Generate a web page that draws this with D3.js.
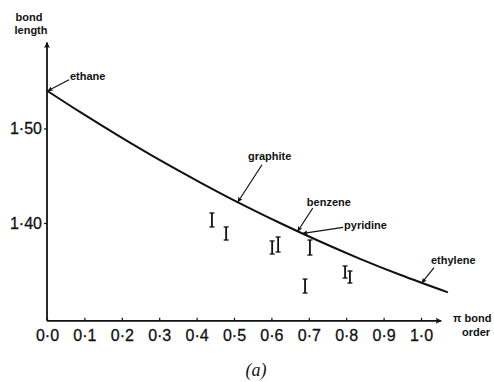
<!DOCTYPE html>
<html>
<head>
<meta charset="utf-8">
<script src="https://cdn.jsdelivr.net/npm/d3@7"></script>
<style>
  body { margin: 0; background: #fff; }
  svg { display: block; }
  .tick text { font-family: "Liberation Sans", Arial, sans-serif; font-size: 16px; fill: #111; stroke: #111; stroke-width: 0.3; }
  .note { font-family: "Liberation Sans", Arial, sans-serif; font-size: 11px; font-weight: bold; fill: #111; }
  .title { font-family: "Liberation Sans", Arial, sans-serif; font-size: 11px; font-weight: bold; fill: #111; }
</style>
</head>
<body>
<div id="chart"></div>
<script>
// pi bond order ticks
var orderTicks = [0, 0.1, 0.2, 0.3, 0.4, 0.5, 0.6, 0.7, 0.8, 0.9, 1.0];
var lengthTicks = [1.40, 1.50];

// the drawn curve
var curveOrder  = [0, 0.088, 0.195, 0.302, 0.409, 0.516, 0.623, 0.730, 0.837, 0.944, 1.072];
var curveLength = [1.540, 1.5175, 1.4914, 1.4665, 1.4431, 1.4208, 1.4000, 1.3804, 1.3621, 1.3452, 1.3266];

// measured bond lengths drawn as error bars
var errOrder = [0.441, 0.479, 0.602, 0.618, 0.703, 0.690, 0.797, 0.810];
var errHigh  = [1.4106, 1.3958, 1.3810, 1.3852, 1.3820, 1.3407, 1.3545, 1.3492];
var errLow   = [1.3958, 1.3820, 1.3672, 1.3693, 1.3661, 1.3259, 1.3418, 1.3365];

// labelled molecules
var molNames  = ["ethane", "graphite", "benzene", "pyridine", "ethylene"];
var molOrder  = [0.0, 0.508, 0.668, 0.682, 1.0];
var molLength = [1.540, 1.4225, 1.3915, 1.3891, 1.3368];
// arrow tail offset and text offset from the tip (pixels)
var tailDx = [22, 25, 16, 41, 13];
var tailDy = [-11, -37, -23, -6, -15];
var textDx = [23, 11, 10, 42, 10];
var textDy = [-11, -42, -25, -4, -19];

var width = 494, height = 382;

var x = d3.scaleLinear().domain([0, 1]).range([47, 421]);
var y = d3.scaleLinear().domain([1.40, 1.50]).range([223, 128.5]);
var yBottom = 1.2965, yTop = 1.591, xEnd = 1.054;

var svg = d3.select("#chart").append("svg")
    .attr("width", width)
    .attr("height", height);

var defs = svg.append("defs");
defs.append("marker")
    .attr("id", "axisHead")
    .attr("viewBox", "0 0 10 10")
    .attr("refX", 9).attr("refY", 5)
    .attr("markerWidth", 9).attr("markerHeight", 6)
    .attr("markerUnits", "userSpaceOnUse")
    .attr("orient", "auto")
  .append("path")
    .attr("d", "M0,0 L10,5 L0,10 L2,5 Z")
    .attr("fill", "#111");
defs.append("marker")
    .attr("id", "noteHead")
    .attr("viewBox", "0 0 10 10")
    .attr("refX", 9).attr("refY", 5)
    .attr("markerWidth", 7).attr("markerHeight", 5)
    .attr("markerUnits", "userSpaceOnUse")
    .attr("orient", "auto")
  .append("path")
    .attr("d", "M0,0 L10,5 L0,10 L2,5 Z")
    .attr("fill", "#111");

var fmt = function(d) { return d3.format(".1f")(d).replace(".", "\u00b7"); };
var fmt2 = function(d) { return d3.format(".2f")(d).replace(".", "\u00b7"); };

// x axis
var xAxis = svg.append("g")
    .attr("transform", "translate(0," + y(yBottom) + ")")
    .call(d3.axisBottom(x).tickValues(orderTicks).tickFormat(fmt)
        .tickSizeInner(-3).tickSizeOuter(0).tickPadding(9));
xAxis.select(".domain").remove();
xAxis.selectAll(".tick line").attr("stroke", "#111").attr("stroke-width", 1.2);

// y axis
var yAxis = svg.append("g")
    .attr("transform", "translate(" + x(0) + ",0)")
    .call(d3.axisLeft(y).tickValues(lengthTicks).tickFormat(fmt2)
        .tickSizeInner(3).tickSizeOuter(0).tickPadding(2));
yAxis.select(".domain").remove();
yAxis.selectAll(".tick line").attr("stroke", "#111").attr("stroke-width", 1.2);

// axis lines with arrows
svg.append("line")
    .attr("x1", x(0)).attr("y1", y(yBottom))
    .attr("x2", x(xEnd)).attr("y2", y(yBottom))
    .attr("stroke", "#111").attr("stroke-width", 1.8)
    .attr("marker-end", "url(#axisHead)");
svg.append("line")
    .attr("x1", x(0)).attr("y1", y(yBottom))
    .attr("x2", x(0)).attr("y2", y(yTop))
    .attr("stroke", "#111").attr("stroke-width", 1.8)
    .attr("marker-end", "url(#axisHead)");

// axis titles
svg.append("text").attr("class", "title").attr("x", 29).attr("y", 21)
    .attr("text-anchor", "middle").text("bond");
svg.append("text").attr("class", "title").attr("x", 31).attr("y", 34)
    .attr("text-anchor", "middle").text("length");
svg.append("text").attr("class", "title").attr("x", 453).attr("y", 322)
    .text("\u03c0 bond");
svg.append("text").attr("class", "title").attr("x", 476).attr("y", 336)
    .attr("text-anchor", "middle").text("order");

// curve
var line = d3.line()
    .x(function(d, i) { return x(curveOrder[i]); })
    .y(function(d, i) { return y(curveLength[i]); })
    .curve(d3.curveMonotoneX);
svg.append("path")
    .datum(curveOrder)
    .attr("d", line)
    .attr("fill", "none")
    .attr("stroke", "#111")
    .attr("stroke-width", 2);

// error bars
var bars = svg.selectAll(".bar")
    .data(errOrder)
    .enter().append("g").attr("class", "bar");
bars.append("line")
    .attr("x1", function(d) { return x(d); })
    .attr("x2", function(d) { return x(d); })
    .attr("y1", function(d, i) { return y(errHigh[i]); })
    .attr("y2", function(d, i) { return y(errLow[i]); })
    .attr("stroke", "#111").attr("stroke-width", 1.8);
[errHigh, errLow].forEach(function(arr) {
    bars.append("line")
        .attr("x1", function(d) { return x(d) - 2.5; })
        .attr("x2", function(d) { return x(d) + 2.5; })
        .attr("y1", function(d, i) { return y(arr[i]); })
        .attr("y2", function(d, i) { return y(arr[i]); })
        .attr("stroke", "#111").attr("stroke-width", 1.3);
});

// annotations
var notes = svg.selectAll(".mol")
    .data(molNames)
    .enter().append("g").attr("class", "mol");
notes.append("line")
    .attr("x1", function(d, i) { return x(molOrder[i]) + tailDx[i]; })
    .attr("y1", function(d, i) { return y(molLength[i]) + tailDy[i]; })
    .attr("x2", function(d, i) { return x(molOrder[i]) + 1; })
    .attr("y2", function(d, i) { return y(molLength[i]); })
    .attr("stroke", "#111").attr("stroke-width", 1.2)
    .attr("marker-end", "url(#noteHead)");
notes.append("text")
    .attr("class", "note")
    .attr("x", function(d, i) { return x(molOrder[i]) + textDx[i]; })
    .attr("y", function(d, i) { return y(molLength[i]) + textDy[i]; })
    .text(function(d) { return d; });

// panel label
svg.append("text")
    .attr("x", 256).attr("y", 376)
    .attr("text-anchor", "middle")
    .style("font-family", "'Liberation Serif', 'Times New Roman', serif")
    .style("font-style", "italic")
    .style("font-size", "18px")
    .attr("fill", "#111")
    .text("(a)");
</script>
</body>
</html>
